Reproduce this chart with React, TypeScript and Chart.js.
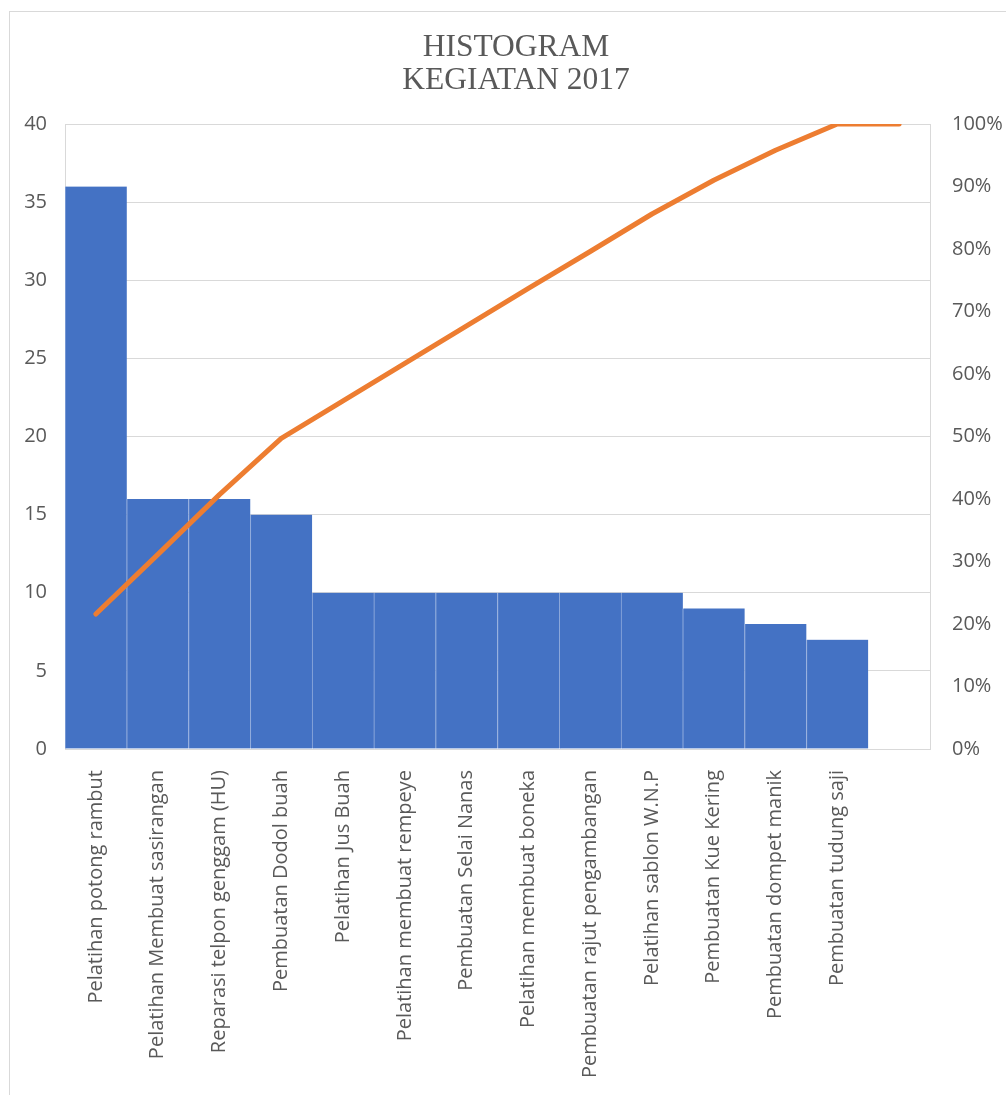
import React, { useEffect, useRef } from "react";
import { Chart, registerables } from "chart.js";

Chart.register(...registerables);

const categories = [
  "Pelatihan potong rambut",
  "Pelatihan Membuat sasirangan",
  "Reparasi telpon genggam (HU)",
  "Pembuatan Dodol buah",
  "Pelatihan Jus Buah",
  "Pelatihan membuat rempeye",
  "Pembuatan Selai Nanas",
  "Pelatihan membuat boneka",
  "Pembuatan rajut pengambangan",
  "Pelatihan sablon W.N.P",
  "Pembuatan Kue Kering",
  "Pembuatan dompet manik",
  "Pembuatan tudung saji",
  "",
];

const counts = [36, 16, 16, 15, 10, 10, 10, 10, 10, 10, 9, 8, 7, null];

const cumulativePercent = [21.6, 31.1, 40.7, 49.7, 55.7, 61.7, 67.7, 73.7, 79.6, 85.6, 91.0, 95.8, 100, 100];

const titleLines = ["HISTOGRAM", "KEGIATAN 2017"];

const W = 1006;
const H = 1095;

export default function App() {
  const ref = useRef<HTMLCanvasElement | null>(null);

  useEffect(() => {
    if (!ref.current) return;
    const titlePlugin = {
      id: "customTitle",
      afterDraw(chart: any) {
        const ctx = chart.ctx;
        ctx.save();
        ctx.fillStyle = "#595959";
        ctx.font = '31.5px "Liberation Serif", "Times New Roman", serif';
        ctx.textAlign = "center";
        ctx.textBaseline = "alphabetic";
        ctx.fillText(titleLines[0], 516, 56);
        ctx.fillText(titleLines[1], 516, 89);
        ctx.restore();
      },
    };
    const chart = new Chart(ref.current, {
      type: "bar",
      data: {
        labels: categories,
        datasets: [
          {
            type: "line",
            label: "Kumulatif",
            data: cumulativePercent,
            yAxisID: "y1",
            borderColor: "#ED7D31",
            backgroundColor: "#ED7D31",
            borderWidth: 5,
            pointRadius: 0,
            borderCapStyle: "round",
            borderJoinStyle: "round",
            tension: 0,
            order: 0,
          } as any,
          {
            type: "bar",
            label: "Jumlah",
            data: counts,
            yAxisID: "y",
            backgroundColor: "#4472C4",
            borderColor: "#8FAADC",
            borderWidth: { left: 1, right: 0, top: 0, bottom: 0 },
            borderSkipped: false,
            categoryPercentage: 1,
            barPercentage: 1,
            order: 1,
          } as any,
        ],
      },
      options: {
        responsive: false,
        animation: false,
        layout: { padding: { top: 124, bottom: 0, left: 0, right: 0 } },
        plugins: {
          legend: { display: false },
          title: { display: false },
          tooltip: { enabled: false },
        },
        scales: {
          x: {
            grid: { display: false, drawTicks: false },
            border: { display: true, color: "#D9D9D9", width: 1 },
            ticks: {
              color: "#595959",
              font: { family: '"Open Sans", "Noto Sans", sans-serif', size: 20 },
              minRotation: 90,
              maxRotation: 90,
              autoSkip: false,
              padding: 21,
            },
            afterFit(scale: any) {
              scale.height = 346;
            },
          },
          y: {
            position: "left",
            min: 0,
            max: 40,
            grid: { color: "#D9D9D9", drawTicks: false, lineWidth: 1 },
            border: { display: true, color: "#D9D9D9", width: 1 },
            ticks: {
              stepSize: 5,
              color: "#595959",
              font: { family: '"Open Sans", "Noto Sans", sans-serif', size: 20 },
              padding: 18,
            },
            afterFit(scale: any) {
              scale.width = 65;
            },
          },
          y1: {
            position: "right",
            min: 0,
            max: 100,
            grid: { display: false, drawTicks: false },
            border: { display: true, color: "#D9D9D9", width: 1 },
            ticks: {
              stepSize: 10,
              color: "#595959",
              font: { family: '"Open Sans", "Noto Sans", sans-serif', size: 20 },
              padding: 22,
              callback: (v: any) => v + "%",
            },
            afterFit(scale: any) {
              scale.width = 76;
            },
          },
        },
      },
      plugins: [titlePlugin],
    });
    return () => chart.destroy();
  }, []);

  return (
    <div
      style={{
        position: "absolute",
        left: 0,
        top: 0,
        width: W,
        height: H,
        overflow: "hidden",
        background: "#fff",
      }}
    >
      <div
        style={{
          position: "absolute",
          left: 9,
          top: 11,
          width: W + 50,
          height: H + 50,
          borderTop: "1px solid #D9D9D9",
          borderLeft: "1px solid #D9D9D9",
        }}
      />
      <canvas
        ref={ref}
        width={W}
        height={H}
        style={{ position: "absolute", left: 0, top: 0, width: W, height: H }}
      />
    </div>
  );
}
